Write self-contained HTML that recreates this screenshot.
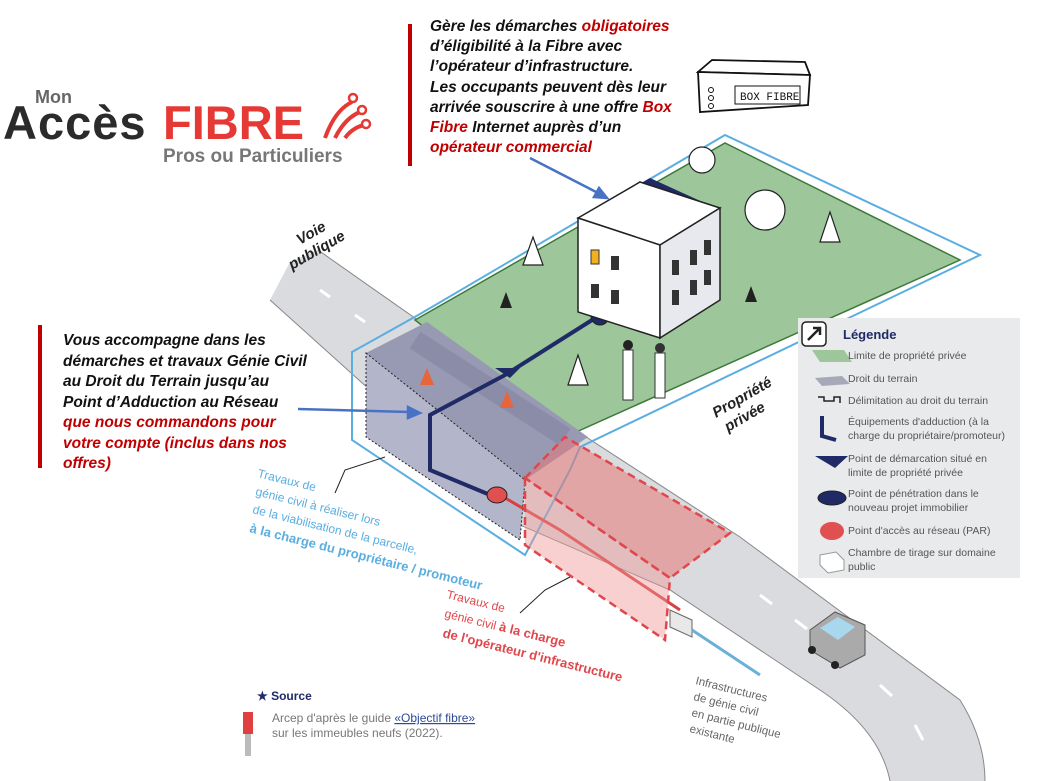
<!DOCTYPE html>
<html><head><meta charset="utf-8"><style>
body{margin:0;background:#fff}
svg{display:block}
.bi{font-family:"Liberation Sans",sans-serif;font-weight:bold;font-style:italic;font-size:15.5px;fill:#111}
.r{fill:#c00000}
.lg{font-family:"Liberation Sans",sans-serif;font-size:10.5px;fill:#555}
</style></head><body>
<svg width="1047" height="781" viewBox="0 0 1047 781" xmlns="http://www.w3.org/2000/svg">
<path d="M290,262 L318,250 L560,420 L740,537 L960,700 Q985,740 985,781 L890,781 Q880,730 820,690 L670,590 L520,525 L270,300 Z" fill="#d9dbde"/>
<path d="M318,250 L560,420 L740,537 L960,700 Q985,740 985,781" fill="none" stroke="#888" stroke-width="1"/>
<path d="M270,300 L520,525 L670,590 L820,690 Q880,730 890,781" fill="none" stroke="#888" stroke-width="1"/>
<g stroke="#fff" stroke-width="3">
<line x1="320" y1="290" x2="330" y2="297"/><line x1="355" y1="315" x2="365" y2="322"/>
<line x1="760" y1="595" x2="772" y2="604"/><line x1="795" y1="620" x2="807" y2="629"/>
<line x1="880" y1="685" x2="892" y2="696"/><line x1="915" y1="725" x2="923" y2="740"/>
</g>
<path d="M415,320 L725,143 L960,260 L565,437 Z" fill="#9dc79b" stroke="#3d7a3a" stroke-width="1.5"/>
<path d="M352,352 L420,314 L725,135 L980,255 L580,447 L570,470 L525,555 L352,440 Z" fill="none" stroke="#5aaee0" stroke-width="2"/>
<path d="M366,353 L427,322 L588,437 L525,480 Z" fill="#9899b3"/>
<path d="M366,353 L525,480 L520,540 L366,437 Z" fill="#b3b5ca" stroke="#222" stroke-width="1" stroke-dasharray="2,2"/>
<line x1="415" y1="340" x2="565" y2="437" stroke="#7a7c98" stroke-width="20" opacity=".4"/>
<path d="M600,315 L505,375 L430,415 L430,470 L495,497" fill="none" stroke="#1f2a66" stroke-width="4"/>
<path d="M500,495 L560,530 L680,610" fill="none" stroke="#d94040" stroke-width="3"/>
<ellipse cx="497" cy="495" rx="10" ry="8" fill="#e05050" stroke="#222"/>
<circle cx="600" cy="316" r="9" fill="#1f2a66" stroke="#222"/>
<path d="M495,368 L520,368 L510,378 Z" fill="#1f2a66"/>
<path d="M420,385 L427,368 L434,385 Z" fill="#e8643a"/><path d="M500,408 L507,391 L514,408 Z" fill="#e8643a"/>
<path d="M525,478 L565,437 L730,533 L670,578 Z" fill="rgba(232,120,120,.55)" stroke="#e0474c" stroke-width="2.5" stroke-dasharray="8,5"/>
<path d="M525,478 L525,545 L665,640 L670,578 Z" fill="rgba(240,150,150,.45)" stroke="#e0474c" stroke-width="2.5" stroke-dasharray="8,5"/>
<path d="M670,610 L692,620 L692,637 L670,627 Z" fill="#e8e8e8" stroke="#666"/>
<line x1="692" y1="630" x2="760" y2="675" stroke="#6ab0d8" stroke-width="3"/>
<path d="M810,630 L835,612 L865,625 L865,655 L840,668 L810,650 Z" fill="#aaa" stroke="#555"/>
<path d="M820,628 L838,617 L855,627 L838,640 Z" fill="#a9d7ee"/>
<circle cx="812" cy="650" r="4" fill="#222"/><circle cx="835" cy="665" r="4" fill="#222"/>
<path d="M612,200 L650,178 L720,210 L682,232 Z" fill="#1f2a66"/>
<path d="M578,218 L640,182 L720,208 L660,245 Z" fill="#fff" stroke="#222" stroke-width="1.5"/>
<path d="M578,218 L660,245 L660,338 L578,312 Z" fill="#fff" stroke="#222" stroke-width="1.5"/>
<path d="M660,245 L720,208 L720,300 L660,338 Z" fill="#e8e9ee" stroke="#222" stroke-width="1.5"/>
<g fill="#333"><rect x="591" y="250" width="8" height="14" fill="#f0b020" stroke="#333"/><rect x="611" y="256" width="8" height="14"/><rect x="591" y="284" width="8" height="14"/><rect x="611" y="290" width="8" height="14"/>
<rect x="672" y="260" width="7" height="15"/><rect x="690" y="250" width="7" height="15"/><rect x="704" y="240" width="7" height="15"/>
<rect x="672" y="290" width="7" height="15"/><rect x="690" y="280" width="7" height="15"/><rect x="704" y="270" width="7" height="15"/></g>
<g fill="#fff" stroke="#222" stroke-width="1.2">
<path d="M523,265 L533,237 L543,265 Z"/><path d="M568,385 L578,355 L588,385 Z"/>
<circle cx="702" cy="160" r="13"/><circle cx="765" cy="210" r="20"/><path d="M820,242 L830,212 L840,242 Z"/></g>
<path d="M500,308 L506,292 L512,308 Z M745,302 L751,286 L757,302 Z" fill="#222"/>
<rect x="623" y="350" width="10" height="50" fill="#fff" stroke="#333"/><rect x="655" y="353" width="10" height="45" fill="#fff" stroke="#333"/>
<circle cx="628" cy="345" r="5" fill="#222"/><circle cx="660" cy="348" r="5" fill="#333"/>
<text transform="translate(292,270) rotate(-30)" style="font:bold italic 15px 'Liberation Sans',sans-serif;fill:#222">publique</text>
<text transform="translate(300,245) rotate(-30)" style="font:bold italic 15px 'Liberation Sans',sans-serif;fill:#222">Voie</text>
<text transform="translate(716,418) rotate(-30)" style="font:bold italic 15px 'Liberation Sans',sans-serif;fill:#222">Propriété</text>
<text transform="translate(728,432) rotate(-30)" style="font:bold italic 15px 'Liberation Sans',sans-serif;fill:#222">privée</text>
<g style="font:12px 'Liberation Sans',sans-serif;fill:#5aaee0">
<text transform="translate(257,477) rotate(14)">Travaux de</text>
<text transform="translate(255,495) rotate(14)">génie civil à réaliser lors</text>
<text transform="translate(252,513) rotate(14)">de la viabilisation de la parcelle,</text>
<text transform="translate(249,532) rotate(14)" font-weight="bold" font-size="13">à la charge du propriétaire / promoteur</text></g>
<path d="M385,457 L345,470 L335,493" stroke="#222" fill="none"/>
<g style="font:12px 'Liberation Sans',sans-serif;fill:#e0474c">
<text transform="translate(446,598) rotate(14)">Travaux de</text>
<text transform="translate(444,617) rotate(14)">génie civil <tspan font-weight="bold" font-size="13">à la charge</tspan></text>
<text transform="translate(442,637) rotate(14)" font-weight="bold" font-size="13">de l'opérateur d'infrastructure</text></g>
<path d="M570,577 L545,590 L520,613" stroke="#222" fill="none"/>
<g style="font:11.5px 'Liberation Sans',sans-serif;fill:#666">
<text transform="translate(695,684) rotate(14)">Infrastructures</text>
<text transform="translate(693,700) rotate(14)">de génie civil</text>
<text transform="translate(691,716) rotate(14)">en partie publique</text>
<text transform="translate(689,732) rotate(14)">existante</text></g>
<text x="257" y="700" style="font:bold 12px 'Liberation Sans',sans-serif;fill:#1f2a66">★ Source</text>
<text x="272" y="722" style="font:12px 'Liberation Sans',sans-serif;fill:#777">Arcep d'après le guide <tspan fill="#2a4a9a" text-decoration="underline">«Objectif fibre»</tspan></text>
<text x="272" y="737" style="font:12px 'Liberation Sans',sans-serif;fill:#777">sur les immeubles neufs (2022).</text>
<rect x="243" y="712" width="10" height="22" fill="#e04040"/><rect x="245" y="734" width="6" height="22" fill="#bbb"/>
<rect x="798" y="318" width="222" height="260" fill="#e8eaec"/>
<rect x="802" y="322" width="24" height="24" rx="4" fill="#fff" stroke="#222" stroke-width="1.5"/>
<path d="M808,340 L820,328 M813,328 L820,328 L820,335" stroke="#222" stroke-width="2.5" fill="none"/>
<text x="843" y="339" style="font:bold 13px 'Liberation Sans',sans-serif;fill:#1f2a66">Légende</text>
<path d="M820,362 L852,362 L844,350 L812,350 Z" fill="#9dc79b"/>
<path d="M815,378 L842,376 L850,384 L822,386 Z" fill="#a7a9b8"/>
<path d="M818,397 L824,397 L824,401 L834,401 L834,397 L840,397 L840,403" stroke="#222" stroke-width="1.5" fill="none"/>
<path d="M822,416 L822,436 L836,440" stroke="#1f2a66" stroke-width="4" fill="none"/>
<path d="M815,456 L848,456 L835,468 Z" fill="#1f2a66"/>
<ellipse cx="832" cy="498" rx="14" ry="7" fill="#1f2a66" stroke="#222"/>
<ellipse cx="832" cy="531" rx="12" ry="9" fill="#e05050"/>
<path d="M820,555 L836,552 L844,560 L844,570 L828,573 L820,565 Z" fill="#fff" stroke="#999"/>
<g class="lg">
<text x="848" y="359">Limite de propriété privée</text>
<text x="848" y="382">Droit du terrain</text>
<text x="848" y="404">Délimitation au droit du terrain</text>
<text x="848" y="425">Équipements d'adduction (à la</text>
<text x="848" y="439">charge du propriétaire/promoteur)</text>
<text x="848" y="462">Point de démarcation situé en</text>
<text x="848" y="476">limite de propriété privée</text>
<text x="848" y="497">Point de pénétration dans le</text>
<text x="848" y="511">nouveau projet immobilier</text>
<text x="848" y="534">Point d'accès au réseau (PAR)</text>
<text x="848" y="556">Chambre de tirage sur domaine</text>
<text x="848" y="570">public</text></g>
<path d="M698,72 L712,60 L805,62 L810,75 Z" fill="#fff" stroke="#111" stroke-width="1.8"/>
<path d="M698,72 L810,75 L808,105 L700,112 Z" fill="#fff" stroke="#111" stroke-width="1.8"/>
<rect x="735" y="86" width="65" height="18" fill="#fff" stroke="#111"/>
<text x="740" y="100" style="font:11px 'Liberation Mono',monospace;fill:#111">BOX FIBRE</text>
<circle cx="711" cy="90" r="2.5" fill="none" stroke="#111"/><circle cx="711" cy="98" r="2.5" fill="none" stroke="#111"/><circle cx="711" cy="106" r="2.5" fill="none" stroke="#111"/>
<text x="35" y="103" style="font:bold 18px 'Liberation Sans',sans-serif;fill:#666">Mon</text>
<text x="3" y="139" style="font:bold 47px 'Liberation Sans',sans-serif;fill:#2b2b2b;letter-spacing:1px">Accès</text>
<text x="163" y="139" style="font:bold 47px 'Liberation Sans',sans-serif;fill:#e53935">FIBRE</text>
<g stroke="#e53935" stroke-width="4" fill="none"><path d="M325,138 Q335,110 352,102"/><path d="M335,138 Q345,118 360,112"/><path d="M345,138 Q352,128 364,125"/></g>
<g fill="#fff" stroke="#e53935" stroke-width="2.5"><circle cx="353" cy="98" r="4"/><circle cx="362" cy="110" r="4"/><circle cx="366" cy="124" r="4"/></g>
<text x="163" y="162" style="font:bold 19px 'Liberation Sans',sans-serif;fill:#777">Pros ou Particuliers</text>
<rect x="408" y="24" width="4" height="142" fill="#c00000"/>
<rect x="38" y="325" width="4" height="143" fill="#c00000"/>
<g class="bi">
<text x="430" y="31">Gère les démarches <tspan class="r">obligatoires</tspan></text>
<text x="430" y="51">d’éligibilité à la Fibre avec</text>
<text x="430" y="71">l’opérateur d’infrastructure.</text>
<text x="430" y="92">Les occupants peuvent dès leur</text>
<text x="430" y="112">arrivée souscrire à une offre <tspan class="r">Box</tspan></text>
<text x="430" y="132"><tspan class="r">Fibre</tspan> Internet auprès d’un</text>
<text x="430" y="152" class="r">opérateur commercial</text></g>
<g class="bi">
<text x="63" y="345">Vous accompagne dans les</text>
<text x="63" y="366">démarches et travaux Génie Civil</text>
<text x="63" y="386">au Droit du Terrain jusqu’au</text>
<text x="63" y="407">Point d’Adduction au Réseau</text>
<text x="63" y="427" class="r">que nous commandons pour</text>
<text x="63" y="448" class="r">votre compte (inclus dans nos</text>
<text x="63" y="468" class="r">offres)</text></g>
<g stroke="#4a72c4" stroke-width="2.5" fill="#4a72c4">
<line x1="530" y1="158" x2="600" y2="194"/><path d="M607,198 L594,197 L599,188 Z"/>
<line x1="298" y1="409" x2="410" y2="412"/><path d="M420,413 L408,418 L408,407 Z"/></g>
</svg>
</body></html>
